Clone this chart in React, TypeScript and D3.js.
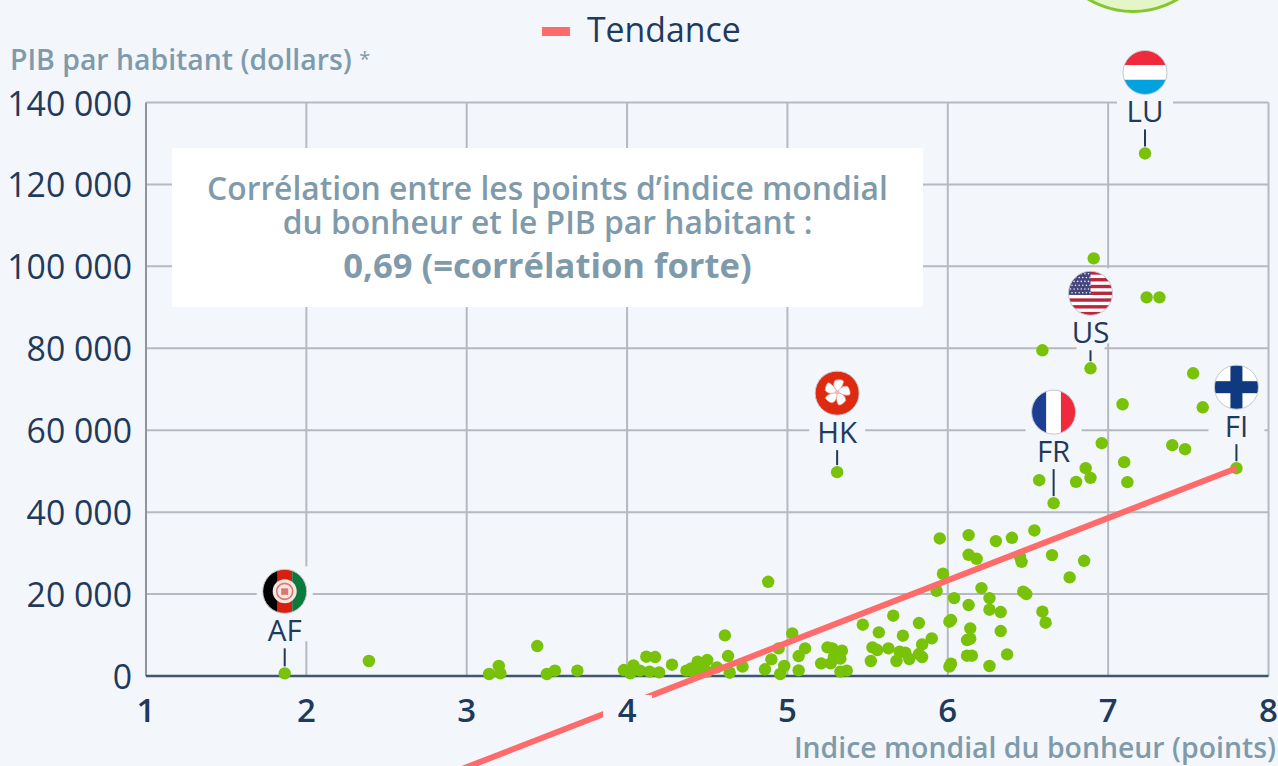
import React from "react";
import * as d3 from "d3";

const happiness = [
  5.95,6.13,6.30,6.40,6.54,6.13,6.18,6.45,6.46,6.65,6.85,6.76,5.97,5.93,6.21,6.04,6.26,6.47,6.49,6.13,6.26,6.33,6.59,6.61,5.82,6.01,6.02,6.14,6.33,5.72,5.90,5.84,6.12,6.14,5.735,5.70,5.76,5.84,5.82,6.12,6.15,6.37,6.02,6.01,6.26,
  4.88,4.61,4.63,4.72,4.64,4.28,4.12,4.175,3.98,4.04,4.02,4.08,4.14,4.20,4.37,4.40,4.44,4.50,4.46,4.42,4.50,4.56,4.86,4.90,4.945,5.03,4.955,4.98,5.07,5.07,5.11,5.21,5.27,5.25,5.28,5.34,5.29,5.33,5.33,5.37,5.47,5.57,5.66,5.53,5.56,5.63,5.52,5.68,
  2.39,3.14,3.20,3.21,3.44,3.50,3.55,3.69,
  6.91,7.24,7.32,6.59,7.53,7.09,7.59,6.96,7.40,7.48,7.10,7.12,6.86,6.89,6.80,6.57,
];
const gdpPerCapita = [
  33570,34390,32930,33740,35530,29590,28620,29100,27880,29510,28130,24065,24960,20810,21460,19020,19020,20570,20000,17320,16180,15610,15690,13010,12930,13250,13660,11630,10980,9840,9190,7720,8780,9100,5690,5930,4150,4630,5365,4960,4960,5280,3010,2280,2440,
  23000,9920,4880,2280,810,2760,4710,4630,1460,2600,650,1300,1060,890,1300,1870,3500,3900,1870,650,1060,2110,1630,4060,6750,10400,490,2440,1380,4880,6750,3090,3090,6990,6750,6180,4710,4230,1060,1300,12520,10650,14715,6990,6340,6750,3660,3660,
  3660,488,2440,650,7320,488,1300,1300,
  101950,92440,92440,79510,73900,66340,65600,56830,56340,55370,52200,47320,50730,48370,47390,47800,
];
const countryCodes = ["LU", "US", "FR", "HK", "FI", "AF"];
const countryHappiness = [7.23, 6.89, 6.66, 5.31, 7.80, 1.865];
const countryGdp = [127560, 75120, 42200, 49760, 50730, 650];
const xTicks = [1, 2, 3, 4, 5, 6, 7, 8];
const yTicks = [0, 20000, 40000, 60000, 80000, 100000, 120000, 140000];
const trendX = [2.9, 7.8];
const trendY = [-23775, 50730];
const annotationLines = [
  "Corrélation entre les points d’indice mondial",
  "du bonheur et le PIB par habitant :",
  "0,69 (=corrélation forte)",
];
const legendLabel = "Tendance";
const yTitle = "PIB par habitant (dollars) ";
const yTitleMark = "*";
const xTitle = "Indice mondial du bonheur (points)";

const W = 1278, H = 766;
const FONT = "'Open Sans', 'Noto Sans', sans-serif";
const x = d3.scaleLinear().domain([1, 8]).range([146, 1268.5]);
const y = d3.scaleLinear().domain([0, 140000]).range([676, 102.5]);
const fmt = (v: number) => String(v).replace(/\B(?=(\d{3})+$)/g, " ");
const flagLift: Record<string, number> = { LU: 81, US: 75, FR: 91, HK: 79, FI: 81, AF: 82 };
const R = 22;

function Flag({ code }: { code: string }) {
  const clip = `url(#clip-${code})`;
  let inner: React.ReactNode = null;
  if (code === "LU") {
    inner = <>
      <rect x={-R} y={-R} width={2*R} height={14.7} fill="#ee2a3c" />
      <rect x={-R} y={-7.3} width={2*R} height={14.7} fill="#fff" />
      <rect x={-R} y={7.3} width={2*R} height={14.7} fill="#00a3e0" />
    </>;
  } else if (code === "US") {
    inner = <>
      <rect x={-R} y={-R} width={2*R} height={2*R} fill="#fff" />
      {d3.range(0, 13, 2).map((i) => <rect key={i} x={-R} y={-R + i * 3.385} width={2*R} height={3.385} fill="#b9263d" />)}
      <rect x={-R} y={-R} width={22} height={23.7} fill="#46467f" />
      {d3.range(0, 6).flatMap((r) => d3.range(0, 6).map((c) => (
        <circle key={`${r}-${c}`} cx={-R + 2 + c * 3.6 + (r % 2) * 1.5} cy={-R + 2.5 + r * 3.8} r={0.8} fill="#e8e8f2" />
      )))}
    </>;
  } else if (code === "FR") {
    inner = <>
      <rect x={-R} y={-R} width={14.7} height={2*R} fill="#1c3f94" />
      <rect x={-7.3} y={-R} width={14.7} height={2*R} fill="#fff" />
      <rect x={7.3} y={-R} width={14.7} height={2*R} fill="#ee2a3c" />
    </>;
  } else if (code === "HK") {
    inner = <>
      <rect x={-R} y={-R} width={2*R} height={2*R} fill="#de2a10" />
      <g transform="translate(0,-1)">
        {d3.range(5).map((i) => (
          <path key={i} transform={`rotate(${i * 72 + 12})`} d="M0,0 C-3,-3 -6.5,-6 -4.5,-11 C-1.5,-13 3,-13.5 4,-12 C4.5,-7 2,-3 0,0Z" fill="#fff" stroke="#e9a59a" strokeWidth={0.7} />
        ))}
        <circle r={2.2} fill="#f3b8ad" />
      </g>
    </>;
  } else if (code === "FI") {
    inner = <>
      <rect x={-R} y={-R} width={2*R} height={2*R} fill="#fff" />
      <rect x={-R} y={-6} width={2*R} height={12} fill="#0f3a80" />
      <rect x={-6} y={-R} width={12} height={2*R} fill="#0f3a80" />
    </>;
  } else if (code === "AF") {
    inner = <>
      <rect x={-R} y={-R} width={15} height={2*R} fill="#000" />
      <rect x={-7} y={-R} width={14.5} height={2*R} fill="#d8200f" />
      <rect x={7.5} y={-R} width={15} height={2*R} fill="#0a7a3c" />
      <circle r={12} fill="#f6e6e2" />
      <circle r={8} fill="none" stroke="#d9786e" strokeWidth={1.6} />
      <rect x={-3.5} y={-3} width={7} height={6.5} fill="#d9786e" />
    </>;
  }
  return <g>
    <clipPath id={`clip-${code}`}><circle r={R} /></clipPath>
    <g clipPath={clip}>{inner}</g>
    <circle r={R} fill="none" stroke="#c4c8ce" strokeWidth={1} />
  </g>;
}

export default function App() {
  const bg = "#f3f6fa";
  const grid = "#b6b9c0";
  const navy = "#1f3a5c";
  const muted = "#7f9bab";
  const trendPath = d3.line<number>().x((v) => x(v)).y((_, i) => y(trendY[i]))(trendX) as string;
  return (
    <svg width={W} height={H} viewBox={`0 0 ${W} ${H}`} style={{ position: "fixed", left: 0, top: 0, display: "block", background: bg }} fontFamily={FONT}>
      <circle cx={1133} cy={-75.5} r={87} fill="#e4f5c8" stroke="#84c72a" strokeWidth={3} />

      {yTicks.slice(1).map((t) => <line key={t} x1={x(1)} x2={x(8)} y1={y(t)} y2={y(t)} stroke={grid} strokeWidth={2} />)}
      {xTicks.slice(1).map((t) => <line key={t} x1={x(t)} x2={x(t)} y1={y(140000)} y2={y(0)} stroke={grid} strokeWidth={2} />)}
      <line x1={x(1)} x2={x(1)} y1={y(140000)} y2={y(0)} stroke="#8f949c" strokeWidth={2} />

      {countryCodes.map((c, i) => {
        const cx = x(countryHappiness[i]);
        const fy = y(countryGdp[i]) - flagLift[c];
        return <g key={c}>
          <rect x={cx - 28} y={fy - 25} width={56} height={75} fill={bg} />
          <rect x={cx - 14} y={fy + 50} width={28} height={12} fill={bg} />
        </g>;
      })}

      <rect x={172} y={148} width={751} height={159} fill="#fff" />
      <g textAnchor="middle" fill={muted}>
        <text x={547.5} y={199.5} fontSize={31.8} fontWeight={600}>{annotationLines[0]}</text>
        <text x={547.5} y={233.5} fontSize={31.8} fontWeight={600}>{annotationLines[1]}</text>
        <text x={547.5} y={277.5} fontSize={34.6} fontWeight={700}>{annotationLines[2]}</text>
      </g>

      <line x1={x(1)} x2={x(8)} y1={y(0)} y2={y(0)} stroke="#3e5573" strokeWidth={2.5} />

      {happiness.map((h, i) => <circle key={i} cx={x(h)} cy={y(gdpPerCapita[i])} r={6.2} fill="#78c20a" />)}
      {countryCodes.map((c, i) => <circle key={c} cx={x(countryHappiness[i])} cy={y(countryGdp[i])} r={6.2} fill="#78c20a" />)}

      <path d={trendPath} fill="none" stroke="#ff6b6b" strokeWidth={6} />

      {xTicks.map((t) => <g key={t}>
        <rect x={x(t) - 24} y={695} width={49} height={36} fill={bg} />
        <text x={x(t)} y={722} textAnchor="middle" fontSize={33} fontWeight={600} fill={navy}>{t}</text>
      </g>)}
      {yTicks.map((t) => <text key={t} x={132} y={y(t) + 13} textAnchor="end" fontSize={33.8} fill={navy}>{fmt(t)}</text>)}

      <text x={10} y={70} fontSize={28.4} fontWeight={600} fill={muted} xmlSpace="preserve">{yTitle}<tspan fontSize={20} fontWeight={400} dy={-4}>{yTitleMark}</tspan></text>
      <text x={1276} y={758} textAnchor="end" fontSize={28.4} fontWeight={600} fill={muted}>{xTitle}</text>

      <rect x={542} y={27} width={28} height={9} fill="#ff6b6b" />
      <text x={587} y={42} fontSize={33.8} fill={navy}>{legendLabel}</text>

      {countryCodes.map((c, i) => {
        const cx = x(countryHappiness[i]);
        const dy = y(countryGdp[i]);
        const fy = dy - flagLift[c];
        return <g key={c}>
          <g transform={`translate(${cx},${fy})`}><Flag code={c} /></g>
          <text x={cx} y={fy + 49.5} textAnchor="middle" fontSize={29.5} fill={navy}>{c}</text>
          <line x1={cx} x2={cx} y1={fy + 57} y2={dy - 7} stroke={navy} strokeWidth={2} />
        </g>;
      })}
    </svg>
  );
}
